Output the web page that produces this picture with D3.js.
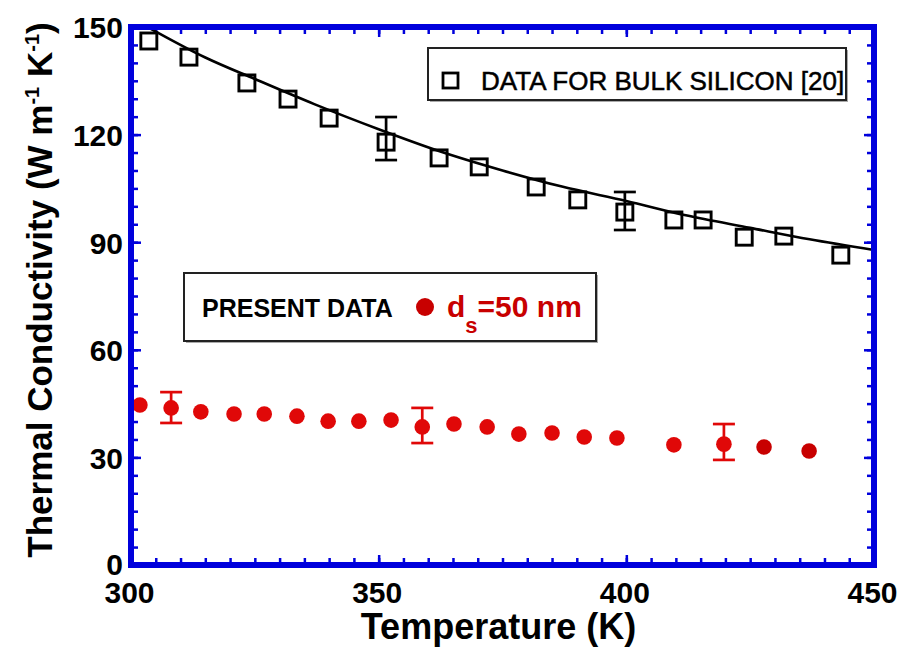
<!DOCTYPE html>
<html>
<head>
<meta charset="utf-8">
<script src="https://cdn.jsdelivr.net/npm/d3@7"></script>
<style>
  body { margin: 0; background: #fff; }
  svg { display: block; font-family: "Liberation Sans", Arial, Helvetica, sans-serif; }
  .tick-lbl { font-size: 30px; font-weight: bold; fill: #000; }
  .ax-title { font-size: 36px; font-weight: bold; fill: #000; }
</style>
</head>
<body>
<div id="chart"></div>
<script>
// bulk silicon data (open squares)
const bulkT = [303.6, 311.7, 323.4, 331.7, 340.0, 351.5, 362.2, 370.3, 381.8, 390.2, 399.7, 409.6, 415.5, 423.8, 431.8, 443.3]
const bulkK = [146.1, 141.6, 134.4, 129.9, 124.6, 117.9, 113.5, 111.0, 105.4, 101.8, 98.4, 96.2, 96.2, 91.4, 91.7, 86.4]
const bulkErrT = [351.5, 399.7]
const bulkErrLo = [112.9, 93.4]
const bulkErrHi = [124.9, 104.0]

// smooth curve through bulk data
const curveT = [304, 315, 325, 337, 350, 362, 375, 387, 400, 412, 425, 437, 450]
const curveK = [149.5, 141.5, 135.5, 128.5, 121.5, 115.5, 110.0, 105.5, 101.5, 97.5, 94.0, 90.8, 87.8]

// present data, d_s = 50 nm (red dots)
const presT = [301.8, 308.1, 314.1, 320.8, 326.9, 333.5, 339.8, 346.0, 352.5, 358.8, 365.2, 371.9, 378.3, 385.0, 391.5, 398.1, 409.6, 419.7, 427.8, 436.9]
const presK = [44.6, 43.8, 42.7, 42.1, 42.1, 41.5, 40.1, 40.1, 40.4, 38.5, 39.3, 38.5, 36.5, 36.8, 35.7, 35.4, 33.5, 33.7, 32.9, 31.8]
const presErrT = [308.1, 358.8, 419.7]
const presErrLo = [39.6, 34.0, 29.3]
const presErrHi = [48.2, 43.8, 39.3]

const xMajor = [300, 350, 400, 450]
const yMajor = [0, 30, 60, 90, 120, 150]

const W = 902, H = 652
const pL = 131, pR = 874, pT = 27, pB = 565
const blue = '#0000dc', red = '#e00808', darkRed = '#c80000'

const svg = d3.select('#chart').append('svg')
    .attr('width', W)
    .attr('height', H)

const x = d3.scaleLinear().domain([300, 450]).range([pL, pR])
const y = d3.scaleLinear().domain([0, 150]).range([pB, pT])

const xMinor = d3.range(300, 451, 5)
const yMinor = d3.range(0, 151, 5)

// ticks on all four sides, pointing inward
function tickAxis(axis, tr) {
    const g = svg.append('g').attr('transform', tr).call(axis)
    g.select('.domain').remove()
    g.selectAll('.tick line').attr('stroke', blue).attr('stroke-width', 2.5)
    return g
}
tickAxis(d3.axisBottom(x).tickValues(xMinor).tickSize(-7).tickFormat(''), `translate(0,${pB})`)
tickAxis(d3.axisTop(x).tickValues(xMinor).tickSize(-7).tickFormat(''), `translate(0,${pT})`)
tickAxis(d3.axisLeft(y).tickValues(yMinor).tickSize(-7).tickFormat(''), `translate(${pL},0)`)
tickAxis(d3.axisRight(y).tickValues(yMinor).tickSize(-7).tickFormat(''), `translate(${pR},0)`)

const xAx = tickAxis(d3.axisBottom(x).tickValues(xMajor).tickSize(-10).tickPadding(0), `translate(0,${pB})`)
xAx.selectAll('.tick text')
    .attr('class', 'tick-lbl')
    .attr('x', -2)
    .attr('y', 38)
    .attr('dy', null)
const yAx = tickAxis(d3.axisLeft(y).tickValues(yMajor).tickSize(-10).tickPadding(0), `translate(${pL},0)`)
yAx.selectAll('.tick text')
    .attr('class', 'tick-lbl')
    .attr('x', -8)
    .attr('dy', d => d === 0 ? '0.3em' : '0.36em')
xAx.attr('font-size', null).attr('font-family', null)
yAx.attr('font-size', null).attr('font-family', null)
tickAxis(d3.axisTop(x).tickValues(xMajor).tickSize(-10).tickFormat(''), `translate(0,${pT})`)
tickAxis(d3.axisRight(y).tickValues(yMajor).tickSize(-10).tickFormat(''), `translate(${pR},0)`)

// axis titles
svg.append('text')
    .attr('class', 'ax-title')
    .attr('x', (pL + pR) / 2 - 4)
    .attr('y', 639)
    .attr('text-anchor', 'middle')
    .text('Temperature (K)')

const yt = svg.append('text')
    .attr('class', 'ax-title')
    .style('font-size', '35px')
    .attr('text-anchor', 'middle')
    .attr('transform', `translate(52,${(pT + pB) / 2 - 6}) rotate(-90)`)
yt.append('tspan').text('Thermal Conductivity (W m')
yt.append('tspan').attr('dy', -13).style('font-size', '20px').text('-1')
yt.append('tspan').attr('dy', 13).text(' K')
yt.append('tspan').attr('dy', -13).style('font-size', '20px').text('-1')
yt.append('tspan').attr('dy', 13).text(')')

// fitted curve
const line = d3.line()
    .x(d => x(d[0]))
    .y(d => y(d[1]))
    .curve(d3.curveMonotoneX)
svg.append('path')
    .datum(d3.zip(curveT, curveK))
    .attr('fill', 'none')
    .attr('stroke', '#000')
    .attr('stroke-width', 2.6)
    .attr('d', line)

// error bars
function errBars(T, lo, hi, color, cap) {
    const g = svg.append('g').attr('stroke', color).attr('stroke-width', 2.7)
    T.forEach((t, i) => {
        g.append('line').attr('x1', x(t)).attr('x2', x(t)).attr('y1', y(lo[i])).attr('y2', y(hi[i]))
        g.append('line').attr('x1', x(t) - cap / 2).attr('x2', x(t) + cap / 2).attr('y1', y(lo[i])).attr('y2', y(lo[i]))
        g.append('line').attr('x1', x(t) - cap / 2).attr('x2', x(t) + cap / 2).attr('y1', y(hi[i])).attr('y2', y(hi[i]))
    })
}
errBars(bulkErrT, bulkErrLo, bulkErrHi, '#000', 22)

svg.append('g')
  .selectAll('rect')
  .data(d3.zip(bulkT, bulkK))
  .join('rect')
    .attr('x', d => x(d[0]) - 8)
    .attr('y', d => y(d[1]) - 8)
    .attr('width', 16)
    .attr('height', 16)
    .attr('fill', 'none')
    .attr('stroke', '#000')
    .attr('stroke-width', 2.9)

errBars(presErrT, presErrLo, presErrHi, red, 22)

svg.append('g')
  .selectAll('circle')
  .data(d3.zip(presT, presK))
  .join('circle')
    .attr('cx', d => x(d[0]))
    .attr('cy', d => y(d[1]))
    .attr('r', 7.8)
    .attr('fill', (d, i) => i >= presT.length - 2 ? darkRed : red)

// plot frame
svg.append('rect')
    .attr('x', pL)
    .attr('y', pT)
    .attr('width', pR - pL)
    .attr('height', pB - pT)
    .attr('fill', 'none')
    .attr('stroke', blue)
    .attr('stroke-width', 6)

// legend: bulk silicon
const lg1 = svg.append('g')
lg1.append('rect')
    .attr('x', 430).attr('y', 50).attr('width', 418).attr('height', 52)
    .attr('fill', '#aaa')
lg1.append('rect')
    .attr('x', 428).attr('y', 48).attr('width', 418).attr('height', 52)
    .attr('fill', '#fff').attr('stroke', '#222').attr('stroke-width', 2)
lg1.append('rect')
    .attr('x', 443).attr('y', 73).attr('width', 15).attr('height', 15)
    .attr('fill', 'none').attr('stroke', '#000').attr('stroke-width', 2.8)
lg1.append('text')
    .attr('x', 481).attr('y', 90)
    .style('font-size', '26px')
    .attr('stroke', '#000')
    .attr('stroke-width', 0.5)
    .text('DATA FOR BULK SILICON [20]')

// legend: present data
const lg2 = svg.append('g')
lg2.append('rect')
    .attr('x', 186).attr('y', 275).attr('width', 412).attr('height', 68)
    .attr('fill', '#aaa')
lg2.append('rect')
    .attr('x', 184).attr('y', 273).attr('width', 412).attr('height', 68)
    .attr('fill', '#fff').attr('stroke', '#222').attr('stroke-width', 2)
lg2.append('text')
    .attr('x', 202).attr('y', 317)
    .style('font-size', '25px').style('font-weight', 'bold')
    .text('PRESENT DATA')
lg2.append('circle')
    .attr('cx', 425).attr('cy', 307).attr('r', 9)
    .attr('fill', darkRed)
const ds = lg2.append('text')
    .attr('x', 447).attr('y', 317)
    .attr('fill', darkRed)
    .style('font-size', '30px').style('font-weight', 'bold')
ds.append('tspan').text('d')
ds.append('tspan').attr('dy', 16).style('font-size', '22px').text('s')
ds.append('tspan').attr('dy', -16).text('=50 nm')
</script>
</body>
</html>
